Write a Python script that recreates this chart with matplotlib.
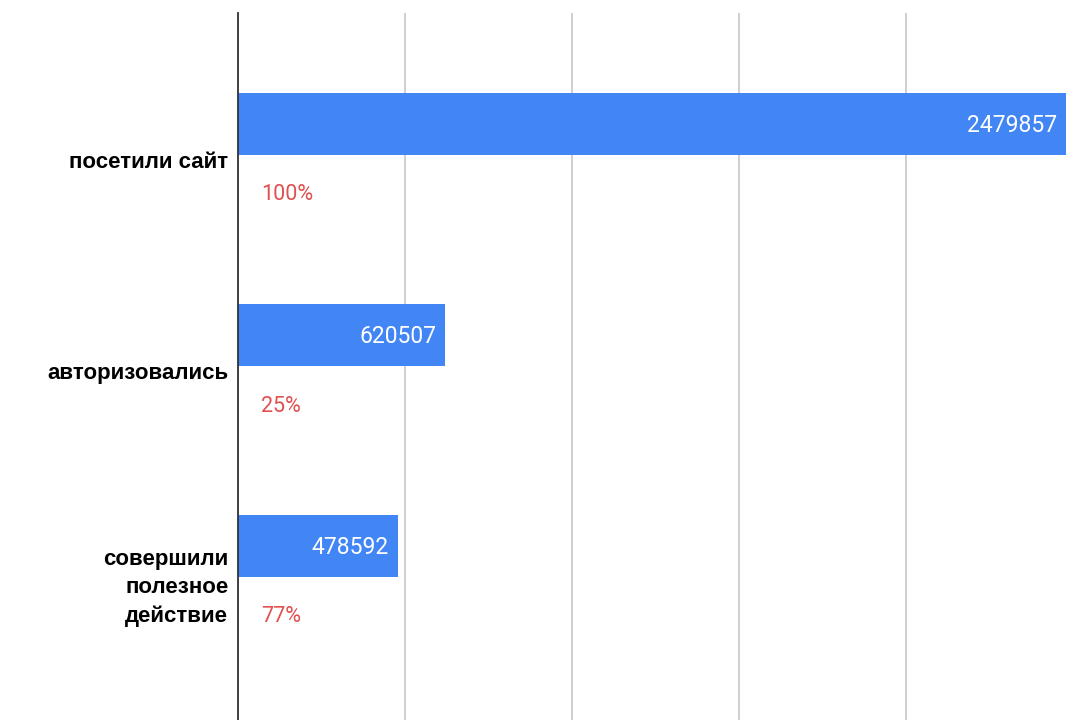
import matplotlib.pyplot as plt

# данные воронки
etapy = ["посетили сайт", "авторизовались", "совершили\nполезное\nдействие"]
znacheniya = [2479857, 620507, 478592]
procenty = ["100%", "25%", "77%"]

W, H = 1069, 720
fig = plt.figure(figsize=(W / 100, H / 100), dpi=100)
# оси: ноль по x на 238px, шаг сетки 500000 = 167px, верх на 13px
ax = fig.add_axes([238 / W, 0, 835 / W, (H - 13) / H])

band = 211.0
ax.set_ylim((H - 160) / band, (13 - 160) / band)
ax.set_xlim(0, 2500000)

pos = list(range(len(etapy)))
bar_y = [p - 36 / band for p in pos]
ax.barh(bar_y, znacheniya, height=62 / band, color="#4285f4", zorder=3)

for y, v in zip(bar_y, znacheniya):
    ax.annotate(str(v), xy=(v, y), xytext=(-6.5, -1), textcoords="offset points",
                ha="right", va="center", color="white", fontsize=16.5,
                family="Roboto", zorder=4)

for p, t in zip(pos, procenty):
    ax.annotate(t, xy=(0, p + 35 / band), xytext=(16.5, 0), textcoords="offset points",
                ha="left", va="center", color="#e0504f", fontsize=15.5,
                family="Roboto")

ax.set_yticks(pos)
ax.set_yticklabels(etapy, fontsize=16, fontweight="bold", family="Liberation Sans",
                   linespacing=1.45)
ax.tick_params(axis="y", length=0, pad=7)
ax.set_xticks([0, 500000, 1000000, 1500000, 2000000, 2500000])
ax.tick_params(axis="x", length=0, labelbottom=False)
ax.grid(axis="x", color="#cccccc", linewidth=1.3, zorder=0)
for s in ["top", "right", "bottom"]:
    ax.spines[s].set_visible(False)
ax.spines["left"].set_color("#333333")
ax.spines["left"].set_linewidth(1.3)
ax.spines["left"].set_zorder(5)

fig.savefig("out.png", dpi=100)
